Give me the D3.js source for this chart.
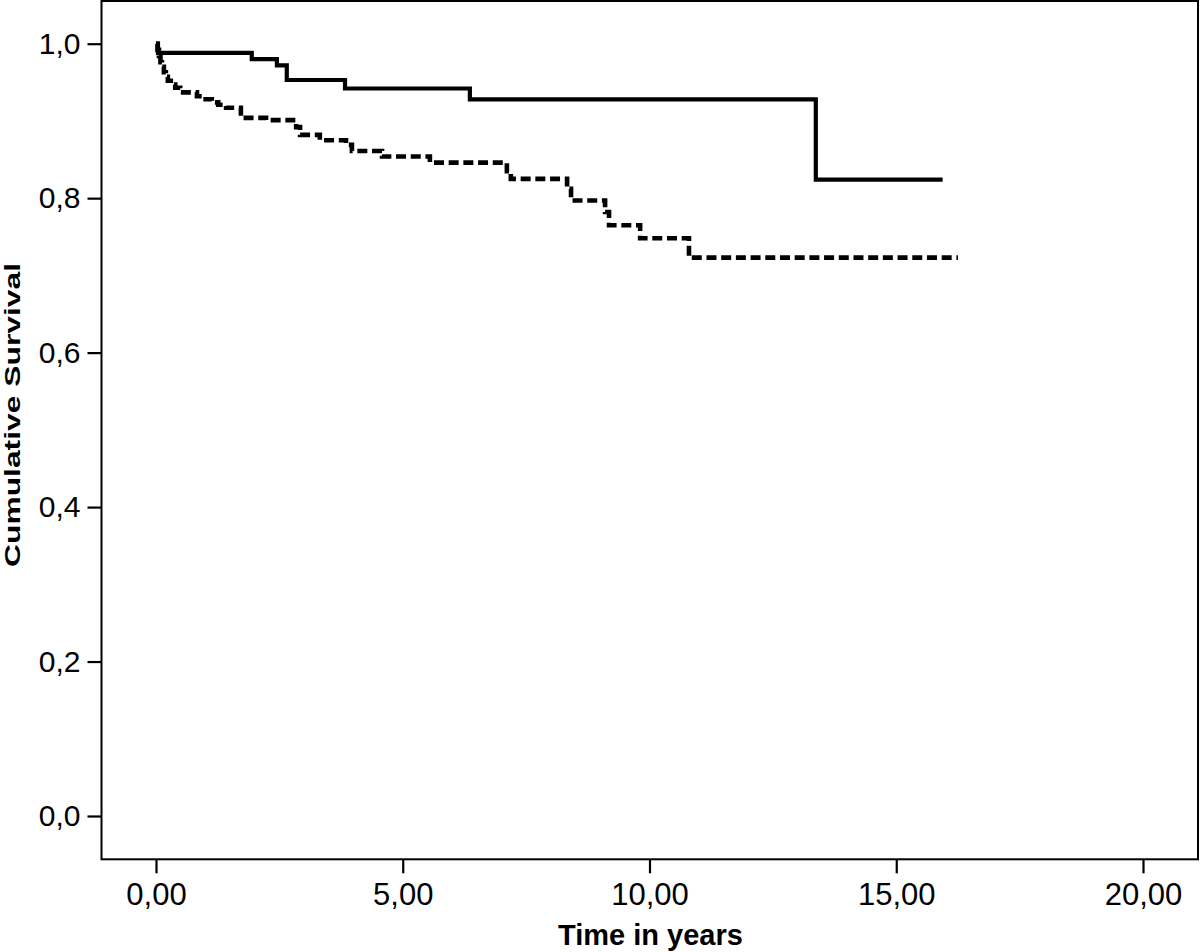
<!DOCTYPE html>
<html>
<head>
<meta charset="utf-8">
<script src="https://cdn.jsdelivr.net/npm/d3@7"></script>
<style>
  html, body { margin: 0; padding: 0; background: #fff; }
  svg { display: block; }
  text { font-family: "Liberation Sans", Arial, sans-serif; fill: #000; }
</style>
</head>
<body>
<svg id="chart" width="1200" height="952"></svg>
<script>
// ---- Data ----
// Solid curve: step times (years) and survival level after each step
const solidTimes = [0, 0.04, 1.94, 2.45, 2.65, 3.83, 6.36, 13.37];
const solidSurv  = [1.000, 0.988, 0.980, 0.972, 0.953, 0.942, 0.928, 0.824];
const solidEnd   = 15.94;

// Dashed curve
const dashTimes = [0, 0.03, 0.06, 0.09, 0.12, 0.16, 0.20, 0.24, 0.30, 0.39, 0.49, 0.83, 0.95,
                   1.13, 1.26, 1.42, 1.72, 2.23, 2.84, 2.92, 3.32, 3.85, 3.97, 4.58, 5.55,
                   7.11, 7.19, 8.33, 8.41, 9.10, 9.18, 9.81, 10.80];
const dashSurv  = [1.000, 0.992, 0.984, 0.976, 0.970, 0.963, 0.957, 0.952, 0.947, 0.943, 0.937, 0.932, 0.928,
                   0.924, 0.921, 0.917, 0.904, 0.901, 0.892, 0.882, 0.875, 0.869, 0.861, 0.854, 0.846,
                   0.835, 0.825, 0.812, 0.797, 0.782, 0.765, 0.748, 0.723];
const dashEnd   = 16.25;

const xTicks = [0, 5, 10, 15, 20];
const xTickLabels = ["0,00", "5,00", "10,00", "15,00", "20,00"];
const yTicks = [0, 0.2, 0.4, 0.6, 0.8, 1.0];
const yTickLabels = ["0,0", "0,2", "0,4", "0,6", "0,8", "1,0"];
const xTitle = "Time in years";
const yTitle = "Cumulative Survival";

// ---- Layout ----
const frame = { left: 101.5, right: 1198, top: 1, bottom: 859.3 };
const x = d3.scaleLinear().domain([0, 20]).range([156, 1143]);
const y = d3.scaleLinear().domain([0, 1]).range([816, 43.7]);

const svg = d3.select("#chart");

// Frame
svg.append("rect")
  .attr("x", frame.left).attr("y", frame.top)
  .attr("width", frame.right - frame.left)
  .attr("height", frame.bottom - frame.top)
  .attr("fill", "none").attr("stroke", "#000").attr("stroke-width", 2);

// Axes
const xAxis = d3.axisBottom(x).tickValues(xTicks)
  .tickFormat((d, i) => xTickLabels[i]).tickSize(14).tickPadding(8);
const gx = svg.append("g").attr("transform", `translate(0,${frame.bottom})`).call(xAxis);
gx.select(".domain").remove();
gx.selectAll(".tick line").attr("stroke", "#000").attr("stroke-width", 2.2);
gx.selectAll(".tick text").attr("font-size", 31).attr("dy", null).attr("y", 46)
  .attr("font-family", "Liberation Sans, Arial, sans-serif");

const yAxis = d3.axisLeft(y).tickValues(yTicks)
  .tickFormat((d, i) => yTickLabels[i]).tickSize(14).tickPadding(7);
const gy = svg.append("g").attr("transform", `translate(${frame.left},0)`).call(yAxis);
gy.select(".domain").remove();
gy.selectAll(".tick line").attr("stroke", "#000").attr("stroke-width", 2.2);
gy.selectAll(".tick text").attr("font-size", 30)
  .attr("font-family", "Liberation Sans, Arial, sans-serif");

// Titles
svg.append("text")
  .attr("x", 650.5).attr("y", 945)
  .attr("text-anchor", "middle")
  .attr("font-size", 29).attr("font-weight", "bold")
  .text(xTitle);

svg.append("text")
  .attr("transform", "translate(20,415) rotate(-90)")
  .attr("text-anchor", "middle")
  .attr("font-size", 22).attr("font-weight", "bold")
  .attr("textLength", 304).attr("lengthAdjust", "spacingAndGlyphs")
  .text(yTitle);

// Step curves
function stepPoints(times, surv, end) {
  const pts = times.map((t, i) => [t, surv[i]]);
  pts.push([end, surv[surv.length - 1]]);
  return pts;
}
const line = d3.line().x(d => x(d[0])).y(d => y(d[1])).curve(d3.curveStepAfter);

svg.append("path")
  .datum(stepPoints(solidTimes, solidSurv, solidEnd))
  .attr("d", line)
  .attr("fill", "none").attr("stroke", "#000").attr("stroke-width", 4.2)
  .attr("stroke-linejoin", "miter").attr("stroke-linecap", "butt");

svg.append("path")
  .datum(stepPoints(dashTimes, dashSurv, dashEnd))
  .attr("d", line)
  .attr("fill", "none").attr("stroke", "#000").attr("stroke-width", 4.6)
  .attr("stroke-dasharray", "10,4.7")
  .attr("stroke-linejoin", "miter").attr("stroke-linecap", "butt");
</script>
</body>
</html>
